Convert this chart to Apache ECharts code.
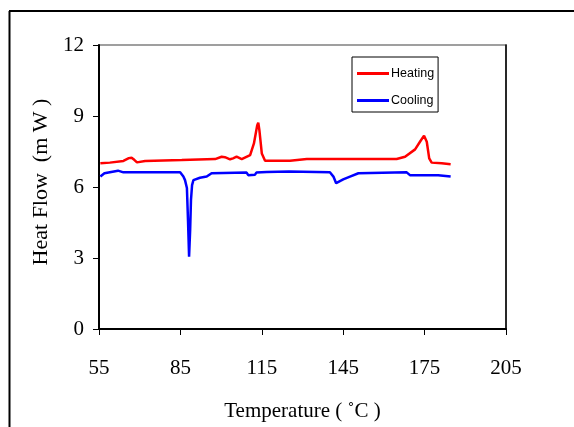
<!DOCTYPE html>
<html>
<head>
<meta charset="utf-8">
<script src="https://cdn.jsdelivr.net/npm/echarts@6/dist/echarts.min.js"></script>
<style>
  html, body { margin: 0; padding: 0; background: #fff; }
  #chart { width: 574px; height: 427px; }
</style>
</head>
<body>
<div id="chart"></div>
<script>
// x axis tick labels (Temperature)
var xTicks = [55, 85, 115, 145, 175, 205];

// heating curve: temperature / heat flow
var heatingTemp = [55.5, 59, 64, 66, 67, 68, 69, 72, 85.5, 97.8, 100.2, 101.4, 103.3, 104.4, 105.7, 107.6,
    110.7, 112.1, 113.3, 113.7, 114.1, 115, 116.2, 125.4, 131.6, 164.7, 167.8, 171.5, 173.3, 174.8,
    175.8, 176.7, 177.6, 181.3, 184.6];
var heatingFlow = [7.00, 7.03, 7.10, 7.22, 7.24, 7.15, 7.04, 7.10, 7.14, 7.18, 7.28, 7.26, 7.17, 7.21, 7.28, 7.18,
    7.35, 7.84, 8.60, 8.72, 8.41, 7.42, 7.11, 7.11, 7.18, 7.18, 7.28, 7.59, 7.91, 8.17,
    7.91, 7.21, 7.03, 7.00, 6.96];

// cooling curve: temperature / heat flow
var coolingTemp = [55.5, 57, 62, 64, 84.9, 86.1, 86.7, 87.4, 87.8, 88.2, 88.6, 88.9, 89.3, 89.8, 92.2, 94.7,
    96.5, 109.4, 110, 112.5, 113, 116.8, 125, 140.1, 141.4, 142.4, 145, 147.5, 150.6, 168.4, 169.6,
    180, 180.5, 184.6];
var coolingFlow = [6.44, 6.58, 6.69, 6.62, 6.62, 6.44, 6.29, 5.96, 4.6, 3.05, 4.2, 5.45, 6.08, 6.29, 6.39, 6.44,
    6.58, 6.61, 6.50, 6.52, 6.61, 6.63, 6.65, 6.62, 6.44, 6.16, 6.32, 6.44, 6.58, 6.62, 6.50,
    6.50, 6.44, 6.44];

function toPairs(xs, ys) {
    var ary = [];
    for (var i = 0; i < xs.length; i++)
        ary.push([xs[i], ys[i]]);
    return ary;
}

var myChart = echarts.init(document.getElementById('chart'), null, { renderer: 'canvas' });

var serifFont = '"Liberation Serif", "Times New Roman", serif';

var option = {
    animation: false,
    backgroundColor: '#fff',
    grid: {
        left: 99,
        top: 45,
        right: 68,
        bottom: 98,
        show: true,
        borderColor: '#808080',
        borderWidth: 1.5
    },
    legend: {
        data: ['Heating', 'Cooling'],
        orient: 'vertical',
        left: 352,
        top: 57,
        padding: [9, 4, 4, 5],
        itemGap: 12,
        itemWidth: 32,
        itemHeight: 3,
        icon: 'rect',
        borderColor: '#000',
        borderWidth: 1,
        backgroundColor: '#fff',
        textStyle: {
            fontFamily: '"Liberation Sans", Arial, sans-serif',
            fontSize: 12.5,
            lineHeight: 15,
            color: '#000',
            padding: [0, 0, 0, -3]
        }
    },
    xAxis: {
        type: 'value',
        min: 55,
        max: 205,
        name: 'Temperature ( ˚C )',
        nameLocation: 'middle',
        nameGap: 72,
        nameTextStyle: { fontFamily: serifFont, fontSize: 21, color: '#000' },
        splitLine: { show: false },
        axisLine: { lineStyle: { color: '#000', width: 2 } },
        axisTick: { length: 6, lineStyle: { color: '#000', width: 1 }, customValues: xTicks },
        axisLabel: {
            customValues: xTicks,
            margin: 29,
            fontFamily: serifFont,
            fontSize: 21,
            color: '#000'
        }
    },
    yAxis: [
        {
            type: 'value',
            min: 0,
            max: 12,
            interval: 3,
            name: 'Heat Flow  (m W )',
            nameLocation: 'middle',
            nameGap: 43,
            nameTextStyle: { fontFamily: serifFont, fontSize: 22, color: '#000', padding: [0, 0, 0, 10] },
            splitLine: { show: false },
            axisLine: { show: true, lineStyle: { color: '#000', width: 2 } },
            axisTick: { show: true, length: 6, lineStyle: { color: '#000', width: 1 } },
            axisLabel: {
                margin: 15,
                fontFamily: serifFont,
                fontSize: 21,
                color: '#000'
            }
        },
        {
            // 右侧边框线
            type: 'value',
            position: 'right',
            min: 0,
            max: 12,
            splitLine: { show: false },
            axisLine: { show: true, lineStyle: { color: '#000', width: 1.5 } },
            axisTick: { show: false },
            axisLabel: { show: false }
        }
    ],
    graphic: [
        // 外框
        { type: 'line', shape: { x1: 9.5, y1: 11, x2: 9.5, y2: 427 }, style: { stroke: '#000', lineWidth: 2 } },
        { type: 'line', shape: { x1: 9, y1: 11, x2: 574, y2: 11 }, style: { stroke: '#000', lineWidth: 2 } }
    ],
    series: [
        {
            name: 'Heating',
            type: 'line',
            symbol: 'none',
            color: '#ff0000',
            lineStyle: { width: 2.5, color: '#ff0000' },
            data: toPairs(heatingTemp, heatingFlow)
        },
        {
            name: 'Cooling',
            type: 'line',
            symbol: 'none',
            color: '#0000ff',
            lineStyle: { width: 2.5, color: '#0000ff' },
            data: toPairs(coolingTemp, coolingFlow)
        }
    ]
};

myChart.setOption(option);
</script>
</body>
</html>
